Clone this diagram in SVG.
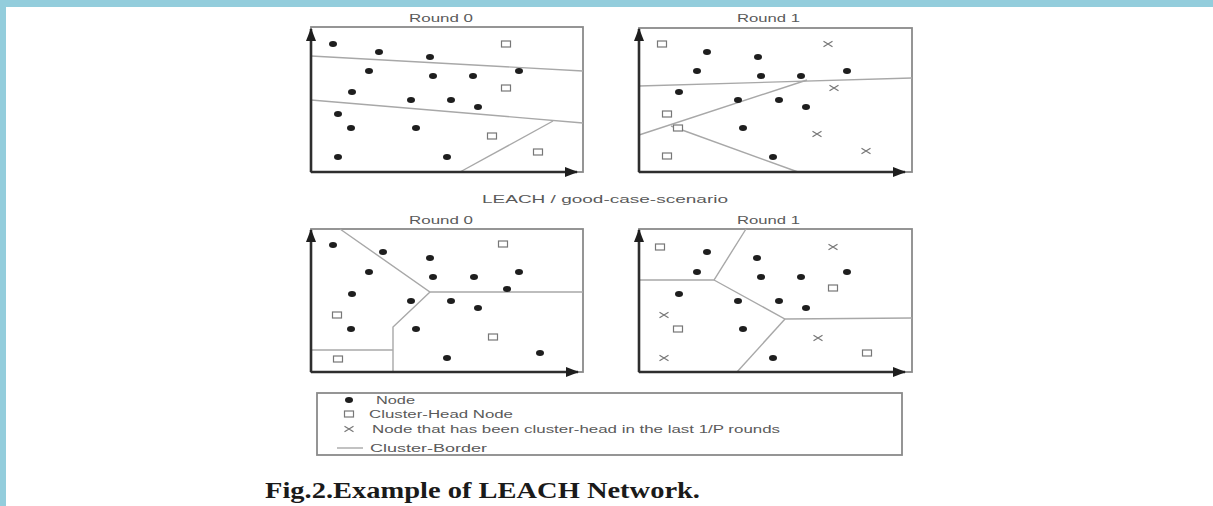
<svg xmlns="http://www.w3.org/2000/svg" xmlns:xlink="http://www.w3.org/1999/xlink" width="1213" height="506" viewBox="0 0 1213 506">
<style>
.frame{fill:none;stroke:#8a8a8a;stroke-width:1.8}
.axis{fill:none;stroke:#2e2e2e;stroke-width:2.6;marker-end:url(#ah)}
.border{fill:none;stroke:#a8a8a8;stroke-width:1.4}
.title{font-family:"Liberation Sans",Arial,sans-serif;font-size:10.5px;fill:#5a5a5a;text-anchor:start}
.leg{font-family:"Liberation Sans",Arial,sans-serif;font-size:10px;fill:#5a5a5a}
.cap{font-family:"Liberation Serif","Times New Roman",serif;font-size:23px;font-weight:bold;fill:#1a1a1a}
</style>
<defs>
<marker id="ah" viewBox="0 0 13 10" refX="12" refY="5" markerWidth="13" markerHeight="10" markerUnits="userSpaceOnUse" orient="auto">
<path d="M0,0 L13,5 L0,10 z" fill="#1e1e1e"/>
</marker>
<ellipse id="dot" cx="0" cy="0" rx="4" ry="3" fill="#1e1e1e"/>
<rect id="sq" x="-4.5" y="-3" width="9" height="6" fill="#fff" stroke="#777" stroke-width="1.2"/>
<path id="xx" d="M-4.5,-2.8 L4.5,2.8 M-4.5,2.8 L4.5,-2.8" stroke="#777" stroke-width="1.2" fill="none"/>
</defs>
<rect width="1213" height="506" fill="#fff"/>
<rect x="0" y="0" width="1213" height="7" fill="#93cddc"/>
<rect x="0" y="0" width="6" height="506" fill="#93cddc"/>

<g id="panel-top-left">
<text class="title" x="409" y="22" textLength="64" lengthAdjust="spacingAndGlyphs">Round 0</text>
<rect class="frame" x="311" y="27" width="272" height="145"/>
<g id="borders-tl">
<path class="border" d="M311,56 L583,71"/>
<path class="border" d="M311,100 L583,123"/>
<path class="border" d="M460,172 L553,121"/>
</g>
<path class="axis" d="M311,172 L311,29"/>
<path class="axis" d="M311,172 L577,172"/>
<g id="nodes-tl">
<use xlink:href="#dot" x="333" y="44"/><use xlink:href="#dot" x="379" y="52"/><use xlink:href="#dot" x="430" y="57"/>
<use xlink:href="#dot" x="369" y="71"/><use xlink:href="#dot" x="433" y="76"/><use xlink:href="#dot" x="473" y="76"/>
<use xlink:href="#dot" x="519" y="71"/><use xlink:href="#dot" x="352" y="92"/><use xlink:href="#dot" x="411" y="100"/>
<use xlink:href="#dot" x="451" y="100"/><use xlink:href="#dot" x="478" y="107"/><use xlink:href="#dot" x="338" y="114"/>
<use xlink:href="#dot" x="351" y="128"/><use xlink:href="#dot" x="416" y="128"/><use xlink:href="#dot" x="338" y="157"/>
<use xlink:href="#dot" x="447" y="157"/>
<use xlink:href="#sq" x="506" y="44"/><use xlink:href="#sq" x="506" y="88"/><use xlink:href="#sq" x="492" y="136"/><use xlink:href="#sq" x="538" y="152"/>
</g>
</g>

<g id="panel-top-right">
<text class="title" x="737" y="22" textLength="63" lengthAdjust="spacingAndGlyphs">Round 1</text>
<rect class="frame" x="639" y="28" width="273" height="144"/>
<g id="borders-tr">
<path class="border" d="M639,86 L912,78"/>
<path class="border" d="M639,135 L807,80"/>
<path class="border" d="M671,126 L798,172"/>
</g>
<path class="axis" d="M639,172 L639,29"/>
<path class="axis" d="M639,172 L905,172"/>
<g id="nodes-tr">
<use xlink:href="#dot" x="707" y="52"/><use xlink:href="#dot" x="758" y="57"/><use xlink:href="#dot" x="697" y="71"/>
<use xlink:href="#dot" x="761" y="76"/><use xlink:href="#dot" x="801" y="76"/><use xlink:href="#dot" x="847" y="71"/>
<use xlink:href="#dot" x="679" y="92"/><use xlink:href="#dot" x="738" y="100"/><use xlink:href="#dot" x="779" y="100"/>
<use xlink:href="#dot" x="806" y="107"/><use xlink:href="#dot" x="743" y="128"/><use xlink:href="#dot" x="773" y="157"/>
<use xlink:href="#sq" x="662" y="44"/><use xlink:href="#sq" x="667" y="114"/><use xlink:href="#sq" x="678" y="128"/><use xlink:href="#sq" x="667" y="156"/>
<use xlink:href="#xx" x="828" y="44"/><use xlink:href="#xx" x="834" y="88"/><use xlink:href="#xx" x="817" y="134"/><use xlink:href="#xx" x="866" y="151"/>
</g>
</g>

<text class="title" x="482" y="203" textLength="246" lengthAdjust="spacingAndGlyphs">LEACH / good-case-scenario</text>

<g id="panel-bottom-left">
<text class="title" x="409" y="224" textLength="64" lengthAdjust="spacingAndGlyphs">Round 0</text>
<rect class="frame" x="311" y="229" width="272" height="143"/>
<g id="borders-bl">
<path class="border" d="M340,229 L430,292 L583,292"/>
<path class="border" d="M430,292 L393,327 L393,372"/>
<path class="border" d="M311,350 L393,350"/>
</g>
<path class="axis" d="M311,372 L311,230"/>
<path class="axis" d="M311,372 L578,372"/>
<g id="nodes-bl">
<use xlink:href="#dot" x="333" y="245"/><use xlink:href="#dot" x="383" y="252"/><use xlink:href="#dot" x="430" y="258"/>
<use xlink:href="#dot" x="369" y="272"/><use xlink:href="#dot" x="433" y="277"/><use xlink:href="#dot" x="474" y="277"/>
<use xlink:href="#dot" x="519" y="272"/><use xlink:href="#dot" x="507" y="289"/><use xlink:href="#dot" x="352" y="294"/>
<use xlink:href="#dot" x="411" y="301"/><use xlink:href="#dot" x="451" y="301"/><use xlink:href="#dot" x="478" y="308"/>
<use xlink:href="#dot" x="351" y="329"/><use xlink:href="#dot" x="416" y="329"/><use xlink:href="#dot" x="447" y="358"/>
<use xlink:href="#dot" x="540" y="353"/>
<use xlink:href="#sq" x="503" y="244"/><use xlink:href="#sq" x="337" y="315"/><use xlink:href="#sq" x="493" y="337"/><use xlink:href="#sq" x="338" y="359"/>
</g>
</g>

<g id="panel-bottom-right">
<text class="title" x="737" y="224" textLength="63" lengthAdjust="spacingAndGlyphs">Round 1</text>
<rect class="frame" x="639" y="229" width="273" height="143"/>
<g id="borders-br">
<path class="border" d="M639,280 L714,280 L746,229"/>
<path class="border" d="M714,280 L785,319 L912,318"/>
<path class="border" d="M785,319 L737,372"/>
</g>
<path class="axis" d="M639,372 L639,230"/>
<path class="axis" d="M639,372 L905,372"/>
<g id="nodes-br">
<use xlink:href="#dot" x="707" y="252"/><use xlink:href="#dot" x="757" y="258"/><use xlink:href="#dot" x="697" y="272"/>
<use xlink:href="#dot" x="761" y="277"/><use xlink:href="#dot" x="801" y="277"/><use xlink:href="#dot" x="847" y="272"/>
<use xlink:href="#dot" x="679" y="294"/><use xlink:href="#dot" x="738" y="301"/><use xlink:href="#dot" x="779" y="301"/>
<use xlink:href="#dot" x="806" y="308"/><use xlink:href="#dot" x="743" y="329"/><use xlink:href="#dot" x="773" y="358"/>
<use xlink:href="#sq" x="660" y="247"/><use xlink:href="#sq" x="833" y="288"/><use xlink:href="#sq" x="678" y="329"/><use xlink:href="#sq" x="867" y="353"/>
<use xlink:href="#xx" x="833" y="247"/><use xlink:href="#xx" x="664" y="315"/><use xlink:href="#xx" x="818" y="338"/><use xlink:href="#xx" x="664" y="358"/>
</g>
</g>

<g id="legend">
<rect x="317" y="393" width="585" height="62" fill="#fff" stroke="#8a8a8a" stroke-width="1.8"/>
<use xlink:href="#dot" x="349" y="400"/>
<text class="leg" x="376" y="403.5" textLength="39" lengthAdjust="spacingAndGlyphs">Node</text>
<use xlink:href="#sq" x="349" y="414"/>
<text class="leg" x="369" y="417.5" textLength="144" lengthAdjust="spacingAndGlyphs">Cluster-Head Node</text>
<use xlink:href="#xx" x="349" y="429"/>
<text class="leg" x="372" y="432.5" textLength="408" lengthAdjust="spacingAndGlyphs">Node that has been cluster-head in the last 1/P rounds</text>
<path class="border" d="M337,448 L363,448"/>
<text class="leg" x="370" y="451.5" textLength="117" lengthAdjust="spacingAndGlyphs">Cluster-Border</text>
</g>

<text class="cap" x="265" y="498" textLength="435" lengthAdjust="spacingAndGlyphs">Fig.2.Example of LEACH Network.</text>
</svg>
